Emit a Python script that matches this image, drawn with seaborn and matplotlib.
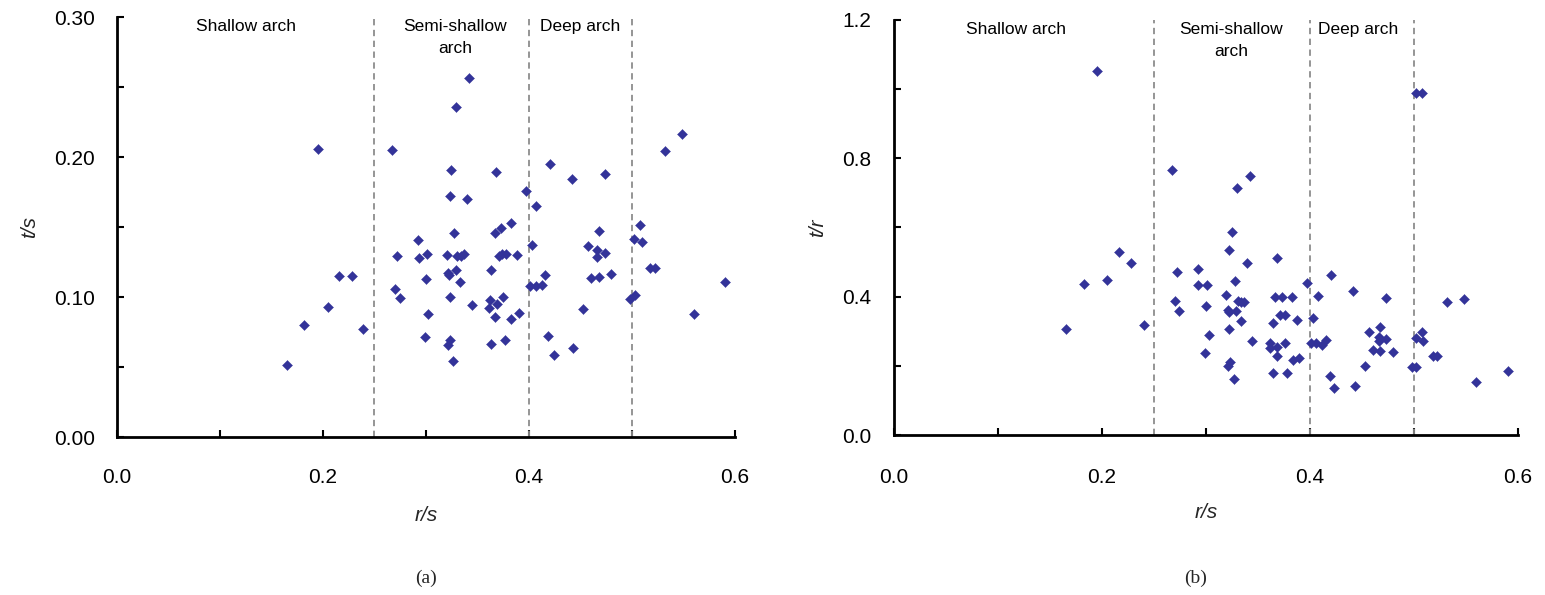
import numpy as np
import pandas as pd
import matplotlib
matplotlib.use("Agg")
import matplotlib.pyplot as plt
from matplotlib.ticker import MultipleLocator, FormatStrFormatter
import seaborn as sns

# ---- data: panel (a) t/s vs r/s ----
rs_a = [0.165, 0.182, 0.195, 0.205, 0.216, 0.228, 0.239, 0.267, 0.272, 0.270,
        0.2745, 0.292, 0.293, 0.301, 0.300, 0.302, 0.299, 0.320, 0.323, 0.324,
        0.329, 0.342, 0.340, 0.327, 0.330, 0.334, 0.337, 0.321, 0.322, 0.329,
        0.3335, 0.323, 0.3445, 0.323, 0.321, 0.326, 0.368, 0.367, 0.373, 0.3825,
        0.3705, 0.3735, 0.378, 0.3885, 0.3635, 0.362, 0.361, 0.369, 0.375, 0.3675,
        0.383, 0.390, 0.3635, 0.377, 0.397, 0.407, 0.403, 0.401, 0.407, 0.4125,
        0.4157, 0.420, 0.4415, 0.4185, 0.424, 0.4423, 0.4525, 0.457, 0.4605, 0.468,
        0.466, 0.466, 0.474, 0.468, 0.4735, 0.480, 0.498, 0.503, 0.502, 0.508,
        0.5095, 0.518, 0.5225, 0.5317, 0.549, 0.560, 0.5907]
ts_a = [0.0516, 0.0802, 0.206, 0.093, 0.115, 0.115, 0.077, 0.205, 0.129, 0.1055,
        0.0996, 0.141, 0.128, 0.131, 0.113, 0.088, 0.0715, 0.130, 0.172, 0.191,
        0.236, 0.2565, 0.170, 0.146, 0.129, 0.129, 0.1306, 0.117, 0.1155, 0.119,
        0.111, 0.1003, 0.0944, 0.069, 0.0658, 0.054, 0.189, 0.146, 0.149, 0.153,
        0.129, 0.1306, 0.131, 0.130, 0.119, 0.0977, 0.0925, 0.095, 0.1003, 0.0857,
        0.084, 0.0885, 0.0665, 0.069, 0.1755, 0.165, 0.137, 0.1077, 0.108, 0.1086,
        0.1155, 0.1947, 0.1845, 0.0724, 0.0587, 0.0639, 0.0913, 0.1368, 0.1138, 0.114,
        0.1287, 0.1337, 0.1315, 0.147, 0.188, 0.1166, 0.0987, 0.1013, 0.1415, 0.1517,
        0.139, 0.1207, 0.1207, 0.204, 0.2167, 0.088, 0.111]

# ---- data: panel (b) t/r vs r/s ----
rs_b = [0.165, 0.183, 0.1957, 0.205, 0.216, 0.228, 0.240, 0.267, 0.272, 0.2705,
        0.2745, 0.292, 0.2927, 0.301, 0.300, 0.3027, 0.2987, 0.3196, 0.325, 0.3225,
        0.3297, 0.3426, 0.3398, 0.328, 0.3305, 0.334, 0.3366, 0.3209, 0.3217, 0.3293,
        0.3337, 0.3225, 0.344, 0.3233, 0.321, 0.3265, 0.368, 0.3667, 0.3736, 0.3824,
        0.371, 0.3764, 0.364, 0.388, 0.362, 0.3615, 0.3687, 0.3756, 0.368, 0.3836,
        0.3897, 0.364, 0.3776, 0.3973, 0.4074, 0.403, 0.401, 0.406, 0.4118, 0.4159,
        0.4203, 0.4416, 0.419, 0.4235, 0.443, 0.453, 0.4565, 0.4674, 0.4662, 0.4662,
        0.473, 0.4734, 0.4605, 0.4678, 0.4795, 0.498, 0.5024, 0.502, 0.508, 0.5016,
        0.5076, 0.509, 0.518, 0.522, 0.5314, 0.548, 0.560, 0.5906]
tr_b = [0.307, 0.436, 1.053, 0.449, 0.528, 0.4985, 0.318, 0.767, 0.4715, 0.387,
        0.360, 0.480, 0.434, 0.434, 0.374, 0.288, 0.236, 0.405, 0.588, 0.534,
        0.7146, 0.748, 0.4985, 0.4455, 0.3877, 0.3838, 0.3857, 0.3626, 0.355, 0.3587,
        0.3298, 0.3076, 0.271, 0.212, 0.2006, 0.162, 0.513, 0.398, 0.398, 0.398,
        0.346, 0.346, 0.324, 0.3337, 0.266, 0.2527, 0.2555, 0.265, 0.2295, 0.216,
        0.2237, 0.180, 0.180, 0.4397, 0.403, 0.3375, 0.266, 0.265, 0.2613, 0.2758,
        0.4629, 0.4175, 0.1697, 0.136, 0.1418, 0.1987, 0.298, 0.3134, 0.2825, 0.273,
        0.2768, 0.397, 0.245, 0.242, 0.241, 0.1967, 0.1977, 0.988, 0.988, 0.2797,
        0.297, 0.271, 0.2295, 0.2285, 0.3838, 0.394, 0.1543, 0.186]

boundaries = [0.25, 0.4, 0.5]
zone_labels = ["Shallow arch", "Semi-shallow\narch", "Deep arch"]
zone_x_a = [0.125, 0.328, 0.4495]
zone_x_b = [0.117, 0.324, 0.446]

df_a = pd.DataFrame({"r/s": rs_a, "t/s": ts_a})
df_b = pd.DataFrame({"r/s": rs_b, "t/r": tr_b})

sns.set_theme(style="white")
plt.rcParams["font.family"] = ["Liberation Sans", "DejaVu Sans"]

fig = plt.figure(figsize=(15.45, 5.95), dpi=100)
ax1 = fig.add_axes([0.0757, 0.2655, 0.4, 0.7059])
ax2 = fig.add_axes([0.5786, 0.2689, 0.4039, 0.6975])

marker_color = "#333399"

def style(ax, df, ycol, ymax, ymajor, yminor, yfmt, zone_x, ylabel, ylab_x, xpad):
    sns.scatterplot(data=df, x="r/s", y=ycol, ax=ax, marker="D", s=26,
                    color=marker_color, edgecolor=marker_color, linewidth=0.3,
                    zorder=3)
    for b in boundaries:
        ax.axvline(b, color="#8c8c8c", ls=(0, (3.5, 2.5)), lw=1.3, zorder=1)
    ax.set_xlim(0, 0.6)
    ax.set_ylim(0, ymax)
    ax.xaxis.set_major_locator(MultipleLocator(0.2))
    ax.xaxis.set_minor_locator(MultipleLocator(0.1))
    ax.xaxis.set_major_formatter(FormatStrFormatter("%.1f"))
    ax.yaxis.set_major_locator(MultipleLocator(ymajor))
    ax.yaxis.set_minor_locator(MultipleLocator(yminor))
    ax.yaxis.set_major_formatter(FormatStrFormatter(yfmt))
    for s in ["top", "right"]:
        ax.spines[s].set_visible(False)
    for s in ["left", "bottom"]:
        ax.spines[s].set_color("black")
        ax.spines[s].set_linewidth(2.0)
    ax.tick_params(axis="both", which="both", direction="in", color="black",
                   width=1.5, length=5, labelsize=15, labelcolor="black")
    ax.tick_params(axis="x", which="major", pad=xpad, bottom=True)
    ax.tick_params(axis="x", which="minor", bottom=True)
    ax.tick_params(axis="y", which="major", pad=16, left=True)
    ax.tick_params(axis="y", which="minor", left=True)
    ax.grid(False)
    ax.set_xlabel("r/s", fontsize=15, style="italic")
    ax.xaxis.set_label_coords(0.5, -0.186)
    ax.xaxis.label.set_va("center")
    ax.set_ylabel(ylabel, fontsize=15, style="italic")
    ax.yaxis.set_label_coords(ylab_x, 0.5)
    ax.yaxis.label.set_va("center")
    for lbl, zx in zip(zone_labels, zone_x):
        ax.text(zx, ymax * 0.995, lbl, ha="center", va="top", fontsize=12.5,
                color="black", linespacing=1.6)

style(ax1, df_a, "t/s", 0.30, 0.1, 0.05, "%.2f", zone_x_a, "t/s", -0.141, 22)
style(ax2, df_b, "t/r", 1.2, 0.4, 0.2, "%.1f", zone_x_b, "t/r", -0.122, 24)

fig.text(0.2757, 0.028, "(a)", ha="center", va="center", fontsize=14,
         family=["Liberation Serif", "DejaVu Serif"])
fig.text(0.774, 0.028, "(b)", ha="center", va="center", fontsize=14,
         family=["Liberation Serif", "DejaVu Serif"])

fig.savefig("out.png", dpi=100)
